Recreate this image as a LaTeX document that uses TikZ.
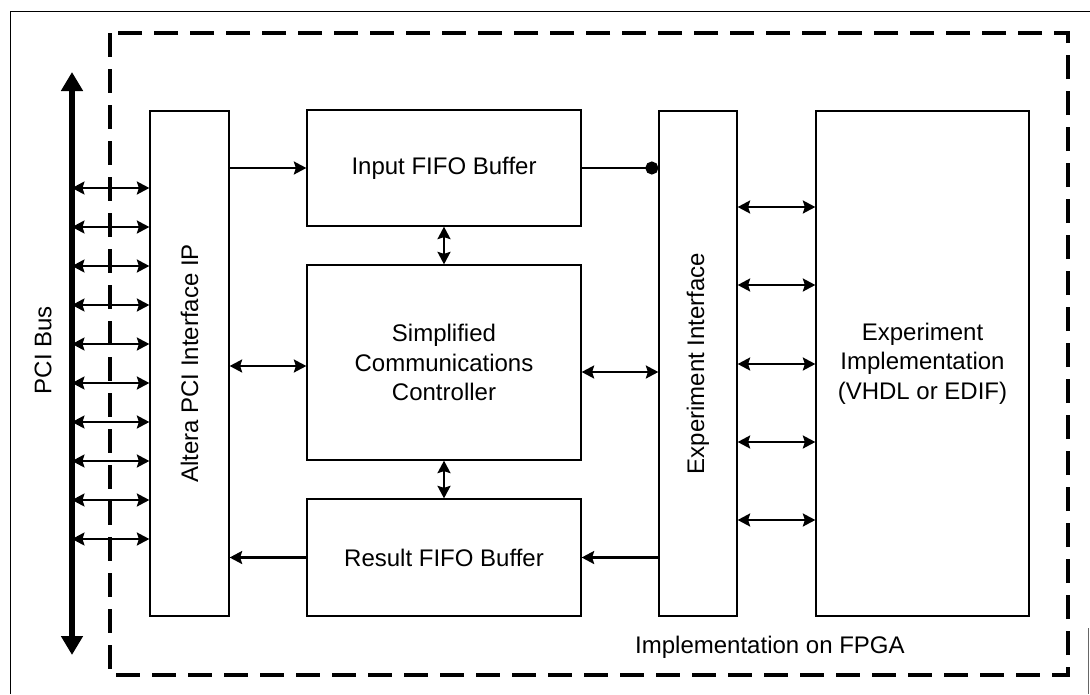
\documentclass[tikz,border=0pt]{standalone}
\usepackage{fontspec}
\setmainfont{Liberation Sans}
\usetikzlibrary{arrows.meta}

\tikzset{
  blk/.style={draw, line width=1.3pt, inner sep=0pt, align=center,
    font=\fontsize{24}{29.5}\selectfont},
  lbl/.style={inner sep=0pt, font=\fontsize{24}{29.5}\selectfont},
  tip/.tip={Stealth[length=12.5pt,width=13pt,inset=2pt]},
  conn/.style={line width=2.2pt},
  one/.style={conn, -tip},
  two/.style={conn, tip-tip},
}

\begin{document}
\begin{tikzpicture}[x=1pt,y=-1pt]
  \useasboundingbox (0,0) rectangle (1090,694);

  % sheet frame
  \draw[line width=1pt] (10,694) -- (10,11) -- (1090,11);
  \draw[line width=0.8pt, black!60] (1088.5,628) -- (1088.5,694);

  % FPGA boundary
  \draw[line width=3.5pt, dash pattern=on 24pt off 12pt] (110,33) rectangle (1068,675);
  \node[lbl, anchor=west] (fpga) at (635,647) {Implementation on FPGA};

  % PCI bus
  \coordinate (busT) at (72,72);
  \coordinate (busB) at (72,655);
  \draw[line width=5.5pt, {Triangle[length=19pt,width=21pt]}-{Triangle[length=19pt,width=21pt]}] (busT) -- (busB);
  \node[lbl, rotate=90] (busl) at (43,350) {PCI Bus};

  % blocks
  \node[blk, minimum width=79pt, minimum height=505pt] (alt) at (189.5,363.5) {};
  \node[lbl, rotate=90] at (alt.center) {Altera PCI Interface IP};
  \node[blk, minimum width=274pt, minimum height=116pt] (inF) at (444,168) {Input FIFO Buffer};
  \node[blk, minimum width=274pt, minimum height=195pt] (scc) at (444,362.5) {Simplified\\Communications\\Controller};
  \node[blk, minimum width=274pt, minimum height=117pt] (res) at (444,557.5) {Result FIFO Buffer};
  \node[blk, minimum width=78pt, minimum height=505pt] (eif) at (698,363.5) {};
  \node[lbl, rotate=90] at (eif.center) {Experiment Interface};
  \node[blk, minimum width=213pt, minimum height=505pt] (imp) at (922.5,363.5) {Experiment\\Implementation\\(VHDL or EDIF)};

  % bus lines into the PCI core
  \foreach \y in {188,227,266,305,344,383,422,461,500,539}
    \draw[two] (busT |- 0,\y) -- (alt.west |- 0,\y);

  % data path
  \draw[one] (alt.east |- inF.west) -- (inF.west);
  \draw[conn, -{Circle[length=13pt]}] (inF.east) -- (eif.west |- inF.east);
  \draw[two] (inF.south) -- (scc.north);
  \draw[two] (scc.south) -- (res.north);
  \draw[two] (alt.east |- 0,366) -- (scc.west |- 0,366);
  \draw[two] (scc.east |- 0,372) -- (eif.west |- 0,372);
  \draw[one] (eif.west |- res.east) -- (res.east);
  \draw[one] (res.west) -- (alt.east |- res.west);

  % experiment interface lines
  \foreach \y in {207,285,364,442,520}
    \draw[two] (eif.east |- 0,\y) -- (imp.west |- 0,\y);
\end{tikzpicture}
\end{document}
